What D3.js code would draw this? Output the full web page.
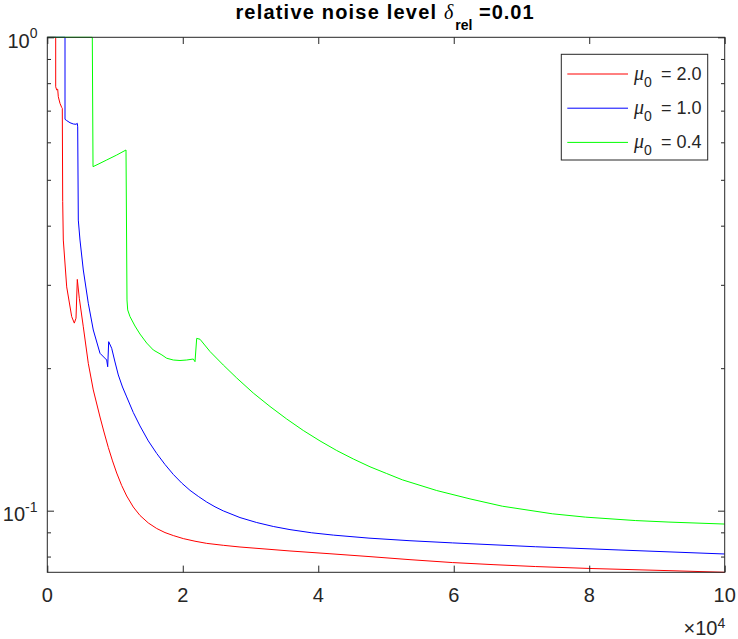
<!DOCTYPE html>
<html>
<head>
<meta charset="utf-8">
<script src="https://cdn.jsdelivr.net/npm/d3@7"></script>
<style>
  body { margin: 0; background: #fff; }
  text { font-family: "Liberation Sans", Arial, Helvetica, sans-serif; fill: #262626; }
</style>
</head>
<body>
<svg class="chart" width="738" height="639"></svg>
<script>

// iterations (x) and relative error (y)
var redX = [0, 1240, 1240, 1388, 1535, 1624, 1875, 2126, 2214, 2273, 2362, 2864, 3602, 3986, 4237, 4429, 4724, 5314, 6052, 6790, 7780, 8370, 9005, 9625, 10245, 10983, 11721, 12695, 13684, 14910, 16150, 17375, 18600, 20076, 21803, 23531, 25981, 28446, 32137, 35827, 41732, 47489, 53541, 59786, 65941, 72098, 79966, 91776, 100000];
var redY = [1, 1, 0.786, 0.774, 0.777, 0.749, 0.725, 0.711, 0.708, 0.45, 0.373, 0.297, 0.257, 0.249, 0.255, 0.308, 0.281, 0.2446, 0.2048, 0.1799, 0.1577, 0.1466, 0.1360, 0.1274, 0.1201, 0.1130, 0.1074, 0.1018, 0.0977, 0.0942, 0.0917, 0.0899, 0.0886, 0.0873, 0.0862, 0.0853, 0.0845, 0.0838, 0.0830, 0.0822, 0.0811, 0.0800, 0.0788, 0.0777, 0.0769, 0.0762, 0.0755, 0.0747, 0.0741];

var blueX = [0, 2613, 2613, 2864, 3351, 3838, 4237, 4429, 4488, 4576, 4827, 5314, 6052, 6790, 7780, 8769, 8916, 9064, 9507, 9994, 10481, 11101, 11721, 12695, 13684, 14910, 16150, 17375, 18600, 19840, 21065, 22291, 23531, 24756, 25981, 28446, 30911, 33362, 35827, 39030, 42220, 47489, 53541, 59786, 72098, 84393, 100000];
var blueY = [1, 1, 0.671, 0.667, 0.660, 0.656, 0.655, 0.658, 0.647, 0.411, 0.373, 0.3224, 0.2743, 0.2408, 0.2150, 0.2081, 0.2014, 0.2275, 0.2203, 0.2061, 0.1935, 0.1825, 0.1739, 0.1612, 0.1510, 0.1404, 0.1321, 0.1252, 0.1193, 0.1144, 0.1104, 0.1072, 0.1043, 0.1019, 0.0999, 0.0967, 0.0944, 0.0926, 0.0912, 0.0898, 0.0888, 0.0875, 0.0864, 0.0855, 0.0839, 0.0826, 0.0810];

var greenX = [0, 6643, 6750, 7780, 8769, 10245, 11618, 11765, 11869, 12210, 12946, 13684, 14673, 15648, 16919, 17626, 18600, 19589, 20578, 21553, 21804, 22055, 22542, 24018, 25981, 27960, 30410, 32875, 35340, 37791, 40256, 42721, 45172, 47637, 50102, 52405, 57483, 62399, 67167, 74548, 79478, 86859, 91776, 100000];
var greenY = [1, 1, 0.533, 0.5418, 0.5506, 0.5640, 0.578, 0.2787, 0.2655, 0.257, 0.2455, 0.2361, 0.2260, 0.2185, 0.2133, 0.2099, 0.2081, 0.2076, 0.2081, 0.2091, 0.2064, 0.2312, 0.2302, 0.2169, 0.2031, 0.1907, 0.1772, 0.1660, 0.1562, 0.1477, 0.1404, 0.1340, 0.1286, 0.1238, 0.1198, 0.1162, 0.1103, 0.1059, 0.1022, 0.0985, 0.0969, 0.0953, 0.0946, 0.0937];

var seriesNames = ["2.0", "1.0", "0.4"];
var seriesColors = ["#ff0000", "#0000ff", "#00ff00"];

var xTicks = [0, 20000, 40000, 60000, 80000, 100000];
var yMajor = [0.1, 1];
var yMajorExp = ["-1", "0"];
var yMinor = [0.08, 0.09, 0.2, 0.3, 0.4, 0.5, 0.6, 0.7, 0.8, 0.9];

var svg = d3.select(".chart"),
    margin = {top: 37.3, right: 13.3, bottom: 66.7, left: 47.3},
    width = +svg.attr("width") - margin.left - margin.right,
    height = +svg.attr("height") - margin.top - margin.bottom,
    g = svg.append("g").attr("transform", "translate(" + margin.left + "," + margin.top + ")");

var axisColor = "#262626";

var x = d3.scaleLinear()
    .domain([0, 100000])
    .range([0, width]);

var y = d3.scaleLog()
    .domain([0.0741, 1])
    .range([height, 0]);

function zip(xs, ys) {
  return xs.map(function(v, i) { return {x: v, y: ys[i]}; });
}
var series = [zip(redX, redY), zip(blueX, blueY), zip(greenX, greenY)];

var line = d3.line()
    .x(function(d) { return x(d.x); })
    .y(function(d) { return y(d.y); });

// lines
series.forEach(function(s, i) {
  g.append("path")
      .datum(s)
      .attr("fill", "none")
      .attr("stroke", seriesColors[i])
      .attr("stroke-width", 1)
      .attr("stroke-linejoin", "round")
      .attr("d", line);
});

// ticks, inward on all four sides
function styleAxis(sel) {
  sel.select(".domain").remove();
  sel.selectAll("line").attr("stroke", axisColor);
}

g.append("g")
    .attr("transform", "translate(0," + height + ")")
    .call(d3.axisBottom(x).tickValues(xTicks).tickSize(-6.7).tickFormat(""))
    .call(styleAxis);
g.append("g")
    .call(d3.axisTop(x).tickValues(xTicks).tickSize(-6.7).tickFormat(""))
    .call(styleAxis);
g.append("g")
    .call(d3.axisLeft(y).tickValues(yMajor).tickSize(-6.7).tickFormat(""))
    .call(styleAxis);
g.append("g")
    .call(d3.axisLeft(y).tickValues(yMinor).tickSize(-3.7).tickFormat(""))
    .call(styleAxis);
g.append("g")
    .attr("transform", "translate(" + width + ",0)")
    .call(d3.axisRight(y).tickValues(yMajor).tickSize(-6.7).tickFormat(""))
    .call(styleAxis);
g.append("g")
    .attr("transform", "translate(" + width + ",0)")
    .call(d3.axisRight(y).tickValues(yMinor).tickSize(-3.7).tickFormat(""))
    .call(styleAxis);

// box
g.append("rect")
    .attr("x", 0).attr("y", 0)
    .attr("width", width).attr("height", height)
    .attr("fill", "none")
    .attr("stroke", axisColor)
    .attr("stroke-width", 1);

// x tick labels
g.selectAll(".xlab")
    .data(xTicks)
  .enter().append("text")
    .attr("class", "xlab")
    .attr("x", function(d) { return x(d); })
    .attr("y", height + 29.7)
    .attr("text-anchor", "middle")
    .style("font-size", "20px")
    .text(function(d) { return d / 10000; });

// exponent under the x axis
var xe = g.append("text")
    .attr("x", width + 0.5)
    .attr("y", height + 62.7)
    .attr("text-anchor", "end")
    .style("font-size", "20px");
xe.append("tspan").text("\u00d710");
xe.append("tspan").attr("dy", -7).style("font-size", "14px").text("4");

// y tick labels 10^-1, 10^0
yMajor.forEach(function(d, i) {
  var t = g.append("text")
      .attr("x", -9.8)
      .attr("y", y(d) + 10.5)
      .attr("text-anchor", "end")
      .style("font-size", "20px");
  t.append("tspan").text("10");
  t.append("tspan").attr("dy", -9.5).style("font-size", "14px").text(yMajorExp[i]);
});

// title
var title = svg.append("text")
    .attr("x", 385)
    .attr("y", 18.5)
    .attr("text-anchor", "middle")
    .style("font-size", "20px")
    .style("font-weight", "bold")
    .style("fill", "#000");
title.append("tspan").style("letter-spacing", "1.2px").text("relative noise level ");
title.append("tspan")
    .style("font-family", "'Liberation Serif', 'Times New Roman', serif")
    .style("font-style", "italic")
    .style("font-weight", "normal")
    .style("font-size", "20px")
    .text("\u03b4");
title.append("tspan").attr("dx", 2).attr("dy", 11).style("font-size", "14px").text("rel");
title.append("tspan").attr("dy", -11).style("letter-spacing", "1px").text(" =0.01");

// legend
var legend = svg.append("g");
legend.append("rect")
    .attr("x", 561.3).attr("y", 54.3)
    .attr("width", 146.4).attr("height", 105.7)
    .attr("fill", "#fff")
    .attr("stroke", axisColor)
    .attr("stroke-width", 1);

seriesNames.forEach(function(name, i) {
  var ly = 74 + i * 34.2;
  legend.append("line")
      .attr("x1", 567.3).attr("x2", 628)
      .attr("y1", ly).attr("y2", ly)
      .attr("stroke", seriesColors[i])
      .attr("stroke-width", 1);
  var t = legend.append("text")
      .attr("x", 634)
      .attr("y", ly + 5.5)
      .style("font-size", "18px");
  t.append("tspan")
      .style("font-family", "'Liberation Serif', 'Times New Roman', serif")
      .style("font-style", "italic")
      .style("font-size", "20px")
      .text("\u03bc");
  t.append("tspan").attr("dy", 7).style("font-size", "14px").text("0");
  t.append("tspan").attr("x", 661).attr("dy", -7).text("= " + name);
});

</script>
</body>
</html>
